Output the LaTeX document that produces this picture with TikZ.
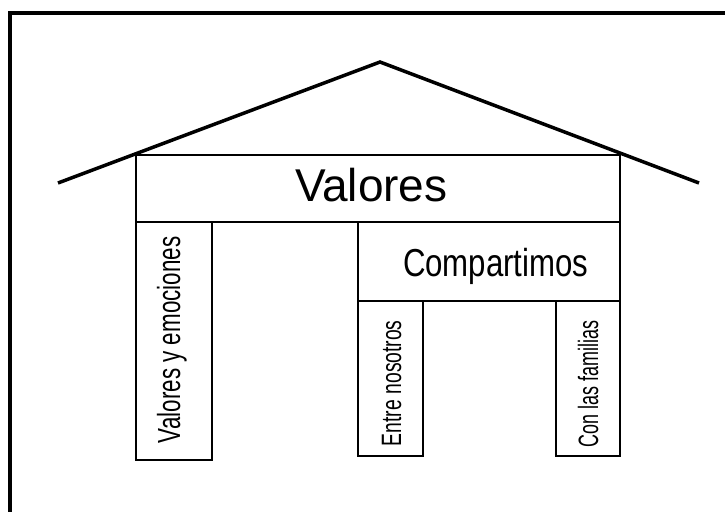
\documentclass[tikz,border=0pt]{standalone}
\usepackage{fontspec}
\setmainfont{Liberation Sans}
\usepackage{graphicx}
\begin{document}
\begin{tikzpicture}[x=1pt,y=-1pt,
  box/.style={draw=black,line width=2pt},
  lbl/.style={inner sep=0pt,outer sep=0pt},
  vlbl/.style={inner sep=0pt,outer sep=0pt,rotate=90,anchor=base west}]
\useasboundingbox (0,0) rectangle (725,511);
\fill[white] (0,0) rectangle (725,511);
% frame
\draw[line width=4.5pt] (740,13) -- (10,13) -- (10,530);
% roof
\coordinate (rl) at (58,183);
\coordinate (apex) at (380,62);
\coordinate (rr) at (699,183);
\draw[line width=3.5pt,line join=miter] (rl) -- (apex) -- (rr);
% boxes
\draw[box] (136,155) rectangle (620,222);
\draw[box] (136,222) rectangle (212,460);
\draw[box] (358,222) rectangle (620,301);
\draw[box] (358,301) rectangle (423,456);
\draw[box] (556,301) rectangle (620,456);
% texts
\node[lbl,anchor=base west] (valores) at (295,201) {\fontsize{46}{52}\selectfont\scalebox{1.0}[1]{Valores}};
\node[lbl,anchor=base west] (comp) at (403,276) {\fontsize{39}{46}\selectfont\scalebox{0.8}[1]{Compartimos}};
\node[vlbl] (vye) at (180,443) {\fontsize{32}{38}\selectfont\scalebox{0.70}[1]{Valores y emociones}};
\node[vlbl] (entre) at (401,446) {\fontsize{28}{32}\selectfont\scalebox{0.69}[1]{Entre nosotros}};
\node[vlbl] (con) at (598,447) {\fontsize{28}{32}\selectfont\scalebox{0.64}[1]{Con las familias}};
\end{tikzpicture}
\end{document}
